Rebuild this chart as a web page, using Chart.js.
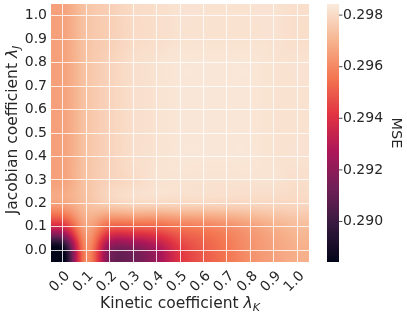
<!DOCTYPE html>
<html>
<head>
<meta charset="utf-8">
<script src="https://cdn.jsdelivr.net/npm/chart.js@4.4.1/dist/chart.umd.min.js"></script>
<style>
  html, body { margin: 0; padding: 0; background: #fff; }
  #wrap { width: 407px; height: 315px; }
</style>
</head>
<body>
<div id="wrap"><canvas id="heat"></canvas></div>
<script>
// grid axes
const kinetic = [0.0, 0.1, 0.2, 0.3, 0.4, 0.5, 0.6, 0.7, 0.8, 0.9, 1.0];
const jacobian = [0.0, 0.1, 0.2, 0.3, 0.4, 0.5, 0.6, 0.7, 0.8, 0.9, 1.0];

// MSE, one row per jacobian value (row 0 = 0.0), one column per kinetic value
const mseJ00 = [0.2884, 0.2960, 0.2917, 0.2915, 0.2925, 0.2942, 0.2950, 0.2956, 0.2962, 0.2966, 0.2969];
const mseJ01 = [0.2938, 0.2966, 0.2951, 0.2951, 0.2952, 0.2956, 0.2958, 0.2961, 0.2965, 0.2969, 0.2972];
const mseJ02 = [0.2966, 0.2973, 0.2977, 0.2979, 0.2979, 0.2979, 0.2979, 0.2979, 0.2979, 0.2979, 0.2979];
const mseJ03 = [0.2966, 0.2974, 0.2978, 0.2980, 0.2982, 0.2982, 0.2982, 0.2982, 0.2982, 0.2982, 0.2981];
const mseJ04 = [0.2966, 0.2974, 0.2978, 0.2981, 0.2982, 0.2983, 0.2983, 0.2983, 0.2983, 0.2982, 0.2982];
const mseJ05 = [0.2966, 0.2974, 0.2978, 0.2981, 0.2982, 0.2983, 0.2983, 0.2983, 0.2983, 0.2982, 0.2982];
const mseJ06 = [0.2966, 0.2974, 0.2978, 0.2981, 0.2982, 0.2983, 0.2983, 0.2983, 0.2983, 0.2982, 0.2982];
const mseJ07 = [0.2966, 0.2974, 0.2978, 0.2981, 0.2982, 0.2983, 0.2983, 0.2983, 0.2983, 0.2982, 0.2982];
const mseJ08 = [0.2966, 0.2974, 0.2978, 0.2981, 0.2982, 0.2983, 0.2983, 0.2983, 0.2983, 0.2982, 0.2982];
const mseJ09 = [0.2966, 0.2974, 0.2977, 0.2980, 0.2981, 0.2982, 0.2982, 0.2982, 0.2982, 0.2982, 0.2981];
const mseJ10 = [0.2966, 0.2974, 0.2977, 0.2980, 0.2981, 0.2982, 0.2982, 0.2982, 0.2982, 0.2982, 0.2981];
const mse = [mseJ00, mseJ01, mseJ02, mseJ03, mseJ04, mseJ05, mseJ06, mseJ07, mseJ08, mseJ09, mseJ10];

const tickLabels = ['0.0', '0.1', '0.2', '0.3', '0.4', '0.5', '0.6', '0.7', '0.8', '0.9', '1.0'];
const cbTicks = [0.290, 0.292, 0.294, 0.296, 0.298];
const mseMin = 0.28843;
const mseMax = 0.29843;

// seaborn "rocket" colormap, sampled
const rocket = [
    [0 / 7, [3, 5, 26]],
    [1 / 7, [53, 25, 62]],
    [2 / 7, [112, 31, 87]],
    [3 / 7, [173, 23, 89]],
    [4 / 7, [225, 51, 66]],
    [5 / 7, [243, 118, 81]],
    [6 / 7, [246, 180, 143]],
    [7 / 7, [250, 235, 221]]
];

const TEXT = '#262626';
const FONT = '"DejaVu Sans", sans-serif';

function rocketColor(v) {
    let t = (v - mseMin) / (mseMax - mseMin);
    t = Math.max(0, Math.min(1, t));
    for (let i = 1; i < rocket.length; i++) {
        if (t <= rocket[i][0]) {
            const a = rocket[i - 1], b = rocket[i];
            const f = (t - a[0]) / (b[0] - a[0]);
            return [0, 1, 2].map(k => a[1][k] + (b[1][k] - a[1][k]) * f);
        }
    }
    return rocket[rocket.length - 1][1];
}

// cubic convolution kernel (a = -0.5)
function keys(t) {
    t = Math.abs(t);
    const a = -0.5;
    if (t <= 1) return (a + 2) * t * t * t - (a + 3) * t * t + 1;
    if (t < 2) return a * t * t * t - 5 * a * t * t + 8 * a * t - 4 * a;
    return 0;
}

function clampIdx(i, n) {
    return i < 0 ? 0 : (i > n - 1 ? n - 1 : i);
}

function sampleMse(x, y) {
    const gx = (x - kinetic[0]) / (kinetic[1] - kinetic[0]);
    const gy = (y - jacobian[0]) / (jacobian[1] - jacobian[0]);
    const ix = Math.floor(gx), iy = Math.floor(gy);
    const fx = gx - ix, fy = gy - iy;
    let sum = 0;
    for (let m = -1; m <= 2; m++) {
        const wy = keys(m - fy);
        const row = mse[clampIdx(iy + m, jacobian.length)];
        for (let n = -1; n <= 2; n++) {
            sum += wy * keys(n - fx) * row[clampIdx(ix + n, kinetic.length)];
        }
    }
    return sum;
}

// text made of pieces with their own font and vertical shift (for the λ subscripts)
function drawRich(ctx, parts, cx, cy, rotation) {
    ctx.save();
    ctx.translate(cx, cy);
    ctx.rotate(rotation);
    ctx.fillStyle = TEXT;
    ctx.textBaseline = 'alphabetic';
    ctx.textAlign = 'left';
    let total = 0;
    parts.forEach(p => { ctx.font = p.font; total += ctx.measureText(p.text).width; });
    let x = -total / 2;
    parts.forEach(p => {
        ctx.font = p.font;
        ctx.fillText(p.text, x, p.dy || 0);
        x += ctx.measureText(p.text).width;
    });
    ctx.restore();
}

const heatmapPlugin = {
    id: 'heatmap',
    beforeDraw(chart) {
        const { ctx, chartArea } = chart;
        const xs = chart.scales.x, ys = chart.scales.y, cb = chart.scales.cb;
        const left = Math.round(chartArea.left), top = Math.round(chartArea.top);
        const w = Math.round(chartArea.right) - left, h = Math.round(chartArea.bottom) - top;

        // heatmap, interpolated from the grid values
        const off = document.createElement('canvas');
        off.width = w; off.height = h;
        const octx = off.getContext('2d');
        const img = octx.createImageData(w, h);
        for (let py = 0; py < h; py++) {
            const yv = ys.getValueForPixel(top + py + 0.5);
            for (let px = 0; px < w; px++) {
                const xv = xs.getValueForPixel(left + px + 0.5);
                const c = rocketColor(sampleMse(xv, yv));
                const k = (py * w + px) * 4;
                img.data[k] = c[0]; img.data[k + 1] = c[1]; img.data[k + 2] = c[2]; img.data[k + 3] = 255;
            }
        }
        octx.putImageData(img, 0, 0);
        ctx.drawImage(off, left, top);

        // colorbar
        const cbLeft = Math.round(cb.left + 18), cbW = 12;
        const cbTop = Math.round(cb.top), cbH = Math.round(cb.bottom) - cbTop;
        for (let py = 0; py < cbH; py++) {
            const c = rocketColor(cb.getValueForPixel(cbTop + py + 0.5));
            ctx.fillStyle = `rgb(${c[0]},${c[1]},${c[2]})`;
            ctx.fillRect(cbLeft, cbTop + py, cbW, 1);
        }
        ctx.strokeStyle = TEXT;
        ctx.lineWidth = 0.8;
        cbTicks.forEach(v => {
            const py = cb.getPixelForValue(v);
            ctx.beginPath();
            ctx.moveTo(cbLeft + cbW, py);
            ctx.lineTo(cbLeft + cbW + 3.5, py);
            ctx.stroke();
        });
    },
    afterDraw(chart) {
        const { ctx, chartArea } = chart;
        const reg = `15.5px ${FONT}`, ital = `oblique 15.5px ${FONT}`, sub = `oblique 11px ${FONT}`;
        const midX = (chartArea.left + chartArea.right) / 2;
        const midY = (chartArea.top + chartArea.bottom) / 2;
        drawRich(ctx, [
            { text: 'Kinetic coefficient ', font: reg },
            { text: 'λ', font: ital },
            { text: 'K', font: sub, dy: 2.5 }
        ], midX, 308, 0);
        drawRich(ctx, [
            { text: 'Jacobian coefficient ', font: reg },
            { text: 'λ', font: ital },
            { text: 'J', font: sub, dy: 2.5 }
        ], 17, midY - 3, -Math.PI / 2);
        drawRich(ctx, [{ text: 'MSE', font: `14.5px ${FONT}` }], 392, midY, Math.PI / 2);
    }
};

const cells = [];
jacobian.forEach((jv, r) => kinetic.forEach((kv, c) => cells.push({ x: kv, y: jv, v: mse[r][c] })));

const gridLines = { color: 'rgba(255,255,255,0.8)', lineWidth: 1, drawTicks: false };
const tickFont = { family: FONT, size: 14 };

// keep the plot box where the reference has it
function fixVertical(width) {
    return s => { s.width = width; s.paddingTop = 0; s.paddingBottom = 0; };
}

new Chart(document.getElementById('heat'), {
    type: 'scatter',
    data: { datasets: [{ data: cells, pointRadius: 0, pointHoverRadius: 0 }] },
    options: {
        responsive: true,
        maintainAspectRatio: false,
        animation: false,
        events: [],
        layout: { padding: { top: 4, left: 0, right: 0, bottom: 0 } },
        plugins: { legend: { display: false }, tooltip: { enabled: false } },
        scales: {
            x: {
                type: 'linear', min: -0.05, max: 1.05,
                afterBuildTicks: s => { s.ticks = kinetic.map(v => ({ value: v })); },
                afterFit: s => { s.height = 53; },
                grid: gridLines,
                border: { display: false },
                ticks: {
                    callback: (v, i) => tickLabels[i],
                    autoSkip: false,
                    minRotation: 45, maxRotation: 45,
                    padding: 6, labelOffset: 5,
                    color: TEXT, font: tickFont
                }
            },
            y: {
                type: 'linear', min: -0.05, max: 1.05,
                afterBuildTicks: s => { s.ticks = jacobian.map(v => ({ value: v })); },
                afterFit: fixVertical(51),
                grid: gridLines,
                border: { display: false },
                ticks: {
                    callback: (v, i) => tickLabels[i],
                    padding: 4,
                    color: TEXT, font: tickFont
                }
            },
            cb: {
                type: 'linear', position: 'right', min: mseMin, max: mseMax,
                afterBuildTicks: s => { s.ticks = cbTicks.map(v => ({ value: v })); },
                afterFit: fixVertical(98),
                grid: { display: false, drawTicks: false },
                border: { display: false },
                ticks: {
                    callback: v => v.toFixed(3),
                    padding: 34,
                    color: TEXT, font: tickFont
                }
            }
        }
    },
    plugins: [heatmapPlugin]
});
</script>
</body>
</html>
